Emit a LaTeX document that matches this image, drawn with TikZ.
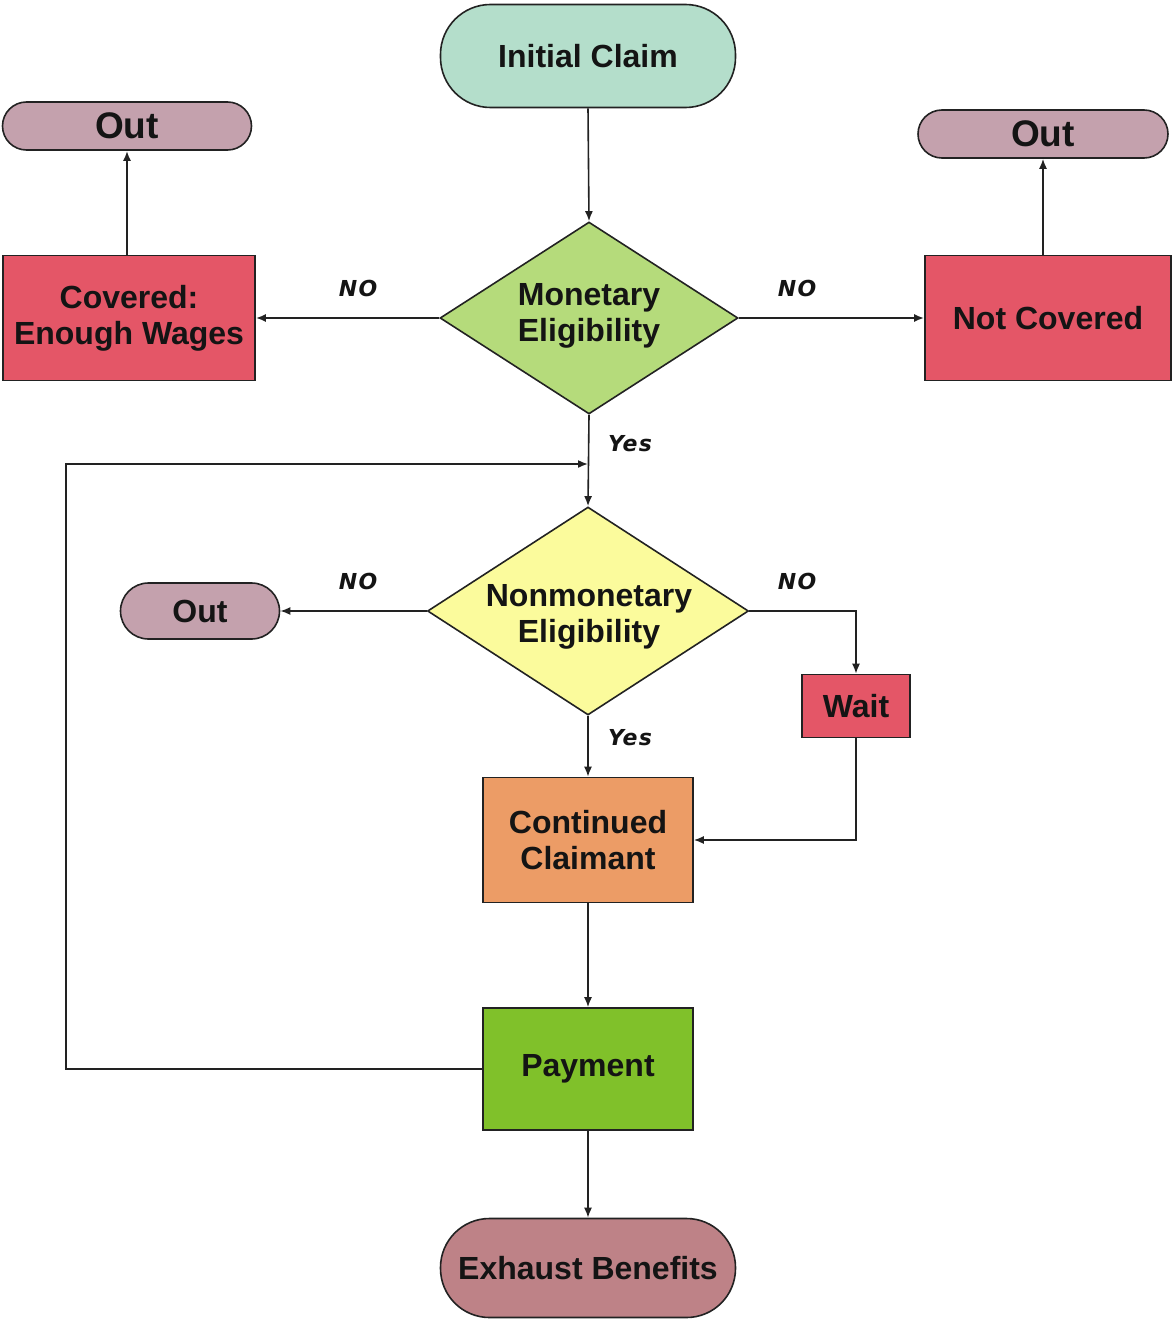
\documentclass[tikz,border=0pt]{standalone}
\usepackage{fontspec}
\setmainfont{Liberation Sans}
\newfontfamily\lblfont[LetterSpace=6]{DejaVu Sans}
\usetikzlibrary{shapes.geometric,arrows.meta}
\definecolor{mint}{HTML}{B4DECB}
\definecolor{outpink}{HTML}{C4A1AD}
\definecolor{boxred}{HTML}{E45667}
\definecolor{mongreen}{HTML}{B5DB7B}
\definecolor{nonyellow}{HTML}{FBFB9C}
\definecolor{contorange}{HTML}{EC9C66}
\definecolor{paygreen}{HTML}{80C12A}
\definecolor{exhpink}{HTML}{BE8287}
\definecolor{edge}{HTML}{222222}
\definecolor{ink}{HTML}{141414}
\tikzset{
  base/.style={draw=edge, line width=1.6pt, inner sep=0pt, align=center,
    font=\fontsize{32}{36}\selectfont\bfseries, text=ink},
  term/.style={base, rectangle, rounded corners=#1},
  term/.default=48pt,
  boxnode/.style={base, rectangle},
  dia/.style={draw=edge, line width=1.6pt, diamond, inner sep=0pt},
  dtext/.style={inner sep=0pt, align=center, font=\fontsize{32}{36}\selectfont\bfseries, text=ink},
  arr/.style={draw=edge, line width=1.6pt, -{Latex[length=10pt,width=8pt]}},
  lbl/.style={inner sep=0pt, text=ink, font=\fontsize{22}{24}\selectfont\lblfont\bfseries\itshape}
}
\begin{document}
\begin{tikzpicture}[x=1pt,y=-1pt]
\useasboundingbox (0,0) rectangle (1172,1319);
% nodes
\node[term=50pt, fill=mint, minimum width=295pt, minimum height=103pt] (ic) at (588,56) {Initial Claim};
\node[term=24pt, fill=outpink, minimum width=249pt, minimum height=48pt, font=\fontsize{37}{40}\selectfont\bfseries] (out1) at (127,126) {Out};
\node[term=24pt, fill=outpink, minimum width=250pt, minimum height=48pt, font=\fontsize{37}{40}\selectfont\bfseries] (out2) at (1043,134) {Out};
\node[boxnode, fill=boxred, minimum width=252pt, minimum height=125pt] (cov) at (129,318) {Covered:\\Enough Wages};
\node[boxnode, fill=boxred, minimum width=246pt, minimum height=125pt] (nc) at (1048,318) {Not Covered};
\node[dia, fill=mongreen, minimum width=298pt, minimum height=192pt] (mon) at (589,318) {};
\node[dtext] (montext) at (589,316) {Monetary\\Eligibility};
\node[dia, fill=nonyellow, minimum width=321pt, minimum height=208pt] (non) at (588,611) {};
\node[dtext] (nontext) at (589,617) {Nonmonetary\\Eligibility};
\node[term=28pt, fill=outpink, minimum width=159pt, minimum height=56pt] (out3) at (200,611) {Out};
\node[boxnode, fill=boxred, minimum width=108pt, minimum height=63pt] (wait) at (856,706) {Wait};
\node[boxnode, fill=contorange, minimum width=210pt, minimum height=125pt] (cont) at (588,840) {Continued\\Claimant};
\node[boxnode, fill=paygreen, minimum width=210pt, minimum height=122pt] (pay) at (588,1069) {Payment};
\node[term=49pt, fill=exhpink, minimum width=295pt, minimum height=99pt] (exh) at (588,1268) {Exhaust Benefits};
% labels
\node[lbl] (no1) at (358,288) {NO};
\node[lbl] (no2) at (797,288) {NO};
\node[lbl] (no3) at (358,581) {NO};
\node[lbl] (no4) at (797,581) {NO};
\node[lbl] (yes1) at (630,444) {Yes};
\node[lbl] (yes2) at (630,738) {Yes};
% helper coordinates
\coordinate (merge) at (588,464);
\coordinate (loopx) at (66,0);
% connectors
\draw[arr] (ic.south) -- (mon.north);
\draw[arr, line width=2.6pt] (mon.west) -- (cov.east);
\draw[arr, line width=2.6pt] (mon.east) -- (nc.west);
\draw[arr, line width=2.8pt] (out1.south |- cov.north) -- (out1.south);
\draw[arr] (out2.south |- nc.north) -- (out2.south);
\draw[arr] (mon.south) -- (non.north);
\draw[arr] (pay.west) -- (pay.west -| loopx) |- (merge);
\draw[arr] (non.west) -- (out3.east);
\draw[arr] (non.east) -| (wait.north);
\draw[arr] (wait.south) |- (cont.east);
\draw[arr] (non.south) -- (cont.north);
\draw[arr] (cont.south) -- (pay.north);
\draw[arr] (pay.south) -- (exh.north);
\end{tikzpicture}
\end{document}
